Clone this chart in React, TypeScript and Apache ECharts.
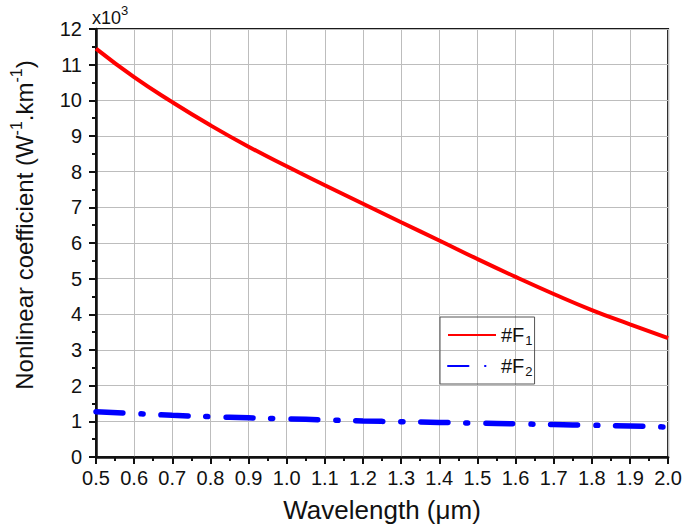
import React, { useEffect, useRef } from "react";
import * as echarts from "echarts";

const wavelengths = [0.5, 0.6, 0.7, 0.8, 0.9, 1.0, 1.1, 1.2, 1.3, 1.4, 1.5, 1.6, 1.7, 1.8, 1.9, 2.0];
const f1Values = [11.45, 10.65, 9.95, 9.3, 8.7, 8.15, 7.62, 7.1, 6.58, 6.07, 5.55, 5.05, 4.57, 4.12, 3.72, 3.33];
const f2Values = [1.27, 1.22, 1.17, 1.13, 1.1, 1.07, 1.04, 1.01, 0.99, 0.97, 0.95, 0.93, 0.91, 0.89, 0.87, 0.84];
const seriesNames = ["#F1", "#F2"];

const FONT = "Liberation Sans, Arial, sans-serif";

export default function App() {
  const ref = useRef<HTMLDivElement>(null);
  useEffect(() => {
    if (!ref.current) return;
    const chart = echarts.init(ref.current, undefined, { renderer: "svg" });
    const pairs = (vals: number[]) => wavelengths.map((w, i) => [w, vals[i]]);
    chart.setOption({
      animation: false,
      backgroundColor: "#ffffff",
      textStyle: { fontFamily: FONT },
      grid: {
        left: 95,
        right: 12,
        top: 29,
        bottom: 72,
        show: true,
        borderColor: "#1a1a1a",
        borderWidth: 2,
        backgroundColor: "transparent",
      },
      legend: {
        orient: "vertical",
        left: 440,
        top: 317,
        padding: [8, 2, 6, 7],
        itemGap: 9,
        itemWidth: 48,
        itemHeight: 16,
        borderColor: "#555",
        borderWidth: 1,
        data: [
          { name: seriesNames[0] },
          { name: seriesNames[1], lineStyle: { type: [20.5, 16.5, 0.5, 16.5], cap: "round" } },
        ],
        itemStyle: { opacity: 0 },
        formatter: (name: string) => "{a|#F}{s|" + name.slice(2) + "}",
        textStyle: {
          fontFamily: FONT,
          color: "#111",
          rich: {
            a: { fontSize: 20, fontFamily: FONT, color: "#111" },
            s: { fontSize: 13, fontFamily: FONT, color: "#111", padding: [11, 0, 0, 1] },
          },
        },
      },
      graphic: [
        {
          type: "text",
          left: 92,
          top: 4,
          style: {
            text: "{a|x10}{s|3}",
            fill: "#111",
            rich: {
              a: { fontSize: 18, fontFamily: FONT, fill: "#111" },
              s: { fontSize: 13, fontFamily: FONT, fill: "#111", padding: [0, 0, 14, 0] },
            },
          },
        },
      ],
      xAxis: {
        type: "value",
        min: 0.5,
        max: 2.0,
        interval: 0.1,
        name: "Wavelength (μm)",
        nameLocation: "middle",
        nameGap: 40,
        nameTextStyle: { fontSize: 26, fontFamily: FONT, color: "#111" },
        axisLine: { show: true, lineStyle: { color: "#111", width: 2.5 } },
        axisTick: { show: true, inside: false, length: 7, lineStyle: { color: "#111", width: 2 } },
        minorTick: { show: true, splitNumber: 2, length: 4, lineStyle: { color: "#111", width: 2 } },
        axisLabel: {
          fontSize: 20,
          fontFamily: FONT,
          color: "#111",
          margin: 11,
          formatter: (v: number) => v.toFixed(1),
        },
        splitLine: { show: true, lineStyle: { color: "#bdbdbd", width: 1 } },
      },
      yAxis: {
        type: "value",
        min: 0,
        max: 12,
        interval: 1,
        name: "{a|Nonlinear coefficient (W}{s|-1}{a|.km}{s|-1}{a|)}",
        nameLocation: "middle",
        nameGap: 56,
        nameRotate: 90,
        nameTextStyle: {
          fontFamily: FONT,
          color: "#111",
          padding: [0, 0, 0, 36],
          rich: {
            a: { fontSize: 24, fontFamily: FONT, color: "#111" },
            s: { fontSize: 16, fontFamily: FONT, color: "#111", padding: [0, 0, 16, 0] },
          },
        },
        axisLine: { show: true, lineStyle: { color: "#111", width: 2.5 } },
        axisTick: { show: true, inside: false, length: 7, lineStyle: { color: "#111", width: 2 } },
        minorTick: { show: true, splitNumber: 2, length: 4, lineStyle: { color: "#111", width: 2 } },
        axisLabel: { fontSize: 20, fontFamily: FONT, color: "#111", margin: 14 },
        splitLine: { show: true, lineStyle: { color: "#bdbdbd", width: 1 } },
      },
      series: [
        {
          name: seriesNames[0],
          type: "line",
          smooth: true,
          symbol: "none",
          data: pairs(f1Values),
          lineStyle: { color: "#ff0000", width: 4 },
          itemStyle: { color: "#ff0000" },
        },
        {
          name: seriesNames[1],
          type: "line",
          smooth: true,
          symbol: "none",
          data: pairs(f2Values),
          lineStyle: { color: "#0000ff", width: 5.5, type: [27, 18, 2, 18], cap: "round" },
          itemStyle: { color: "#0000ff" },
        },
      ],
    });
    return () => chart.dispose();
  }, []);
  return <div ref={ref} style={{ width: 685, height: 529, position: "absolute", left: 0, top: 0 }} />;
}
